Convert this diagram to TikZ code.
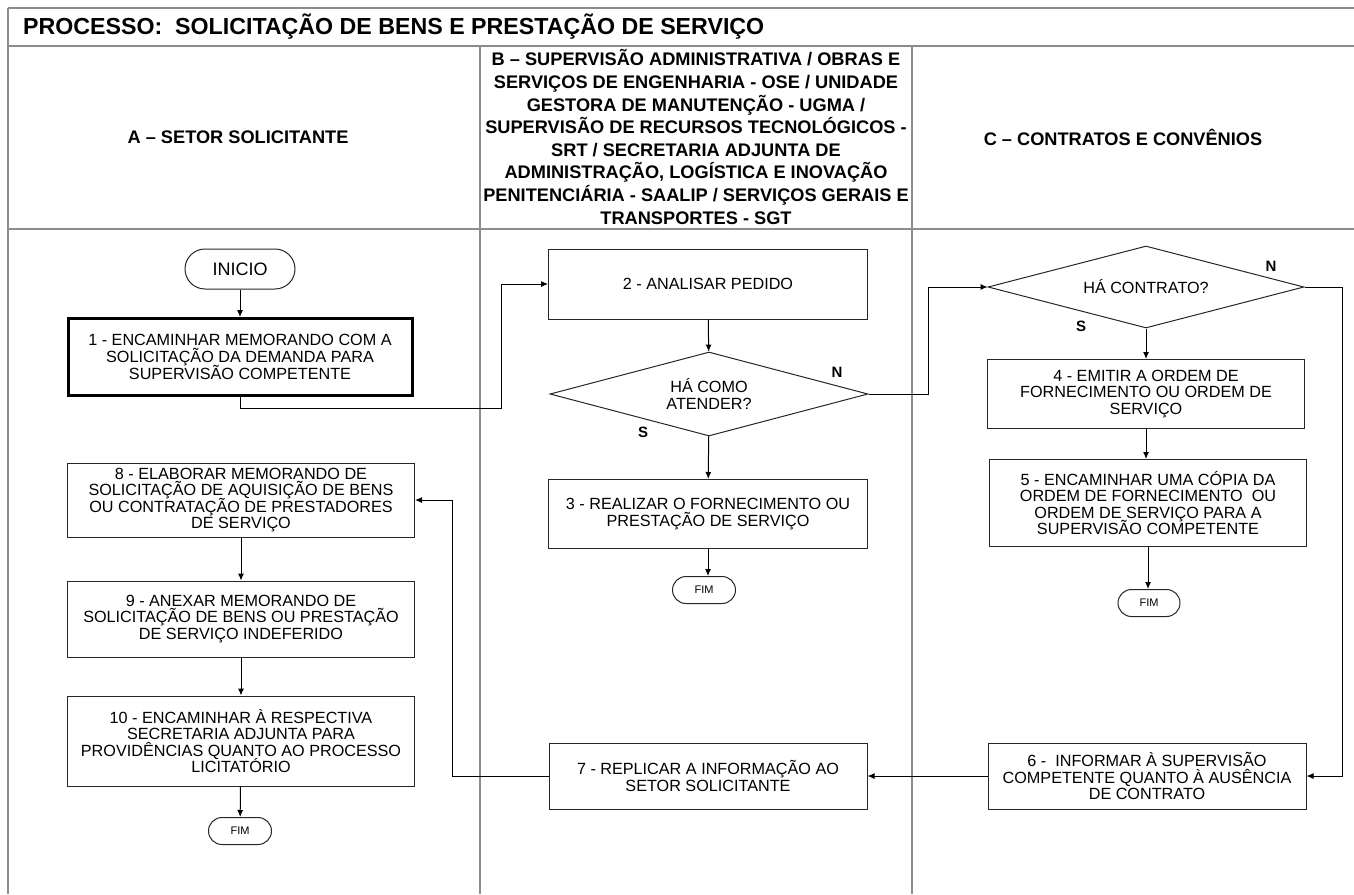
\documentclass[tikz,border=0pt]{standalone}
\usepackage{fontspec}
\setmainfont{Liberation Sans}
\usetikzlibrary{shapes.geometric,shapes.misc,arrows.meta}
\newcommand\tightlines{\lineskiplimit=-20pt\relax}
\begin{document}
\tightlines
\begin{tikzpicture}[x=0.5pt,y=-0.5pt,
  frame/.style={draw=black!45, line width=0.6pt},
  proc/.style={draw=black!85, rectangle, line width=0.5pt, align=center, font=\fontsize{8.1}{8.3}\selectfont\tightlines, inner sep=1pt},
  thickproc/.style={proc, line width=1.5pt, draw=black},
  term/.style={draw=black!85, rounded rectangle, line width=0.5pt, align=center, inner sep=1pt},
  dec/.style={draw=black!85, diamond, aspect=3.8, line width=0.5pt, align=center, inner sep=0pt, font=\fontsize{8.1}{8.6}\selectfont\tightlines},
  hdr/.style={align=center, font=\bfseries\fontsize{9.1}{11.3}\selectfont\tightlines},
  yn/.style={font=\bfseries\fontsize{7.5}{8}\selectfont},
  conn/.style={draw=black, line width=0.5pt, -{Latex[length=3.5pt,width=3pt]}}
]
\useasboundingbox (0,0) rectangle (1354,894);
% frame
\draw[frame] (8,8) -- (1354,8);
\draw[frame] (8,8) -- (8,894);
\draw[frame] (8,46) -- (1354,46);
\draw[frame] (8,229) -- (1354,229);
\draw[frame] (480,46) -- (480,894);
\draw[frame] (912,46) -- (912,894);
% title and headers
\node[anchor=west, font=\bfseries\fontsize{11.6}{13}\selectfont] (title) at (16,27) {PROCESSO:\ \ SOLICITAÇÃO DE BENS E PRESTAÇÃO DE SERVIÇO};
\node[hdr] (hA) at (238,137) {A – SETOR SOLICITANTE};
\node[hdr] (hB) at (696,137) {B – SUPERVISÃO ADMINISTRATIVA / OBRAS E\\SERVIÇOS DE ENGENHARIA - OSE / UNIDADE\\GESTORA DE MANUTENÇÃO - UGMA /\\SUPERVISÃO DE RECURSOS TECNOLÓGICOS -\\SRT / SECRETARIA ADJUNTA DE\\ADMINISTRAÇÃO, LOGÍSTICA E INOVAÇÃO\\PENITENCIÁRIA - SAALIP / SERVIÇOS GERAIS E\\TRANSPORTES - SGT};
\node[hdr] (hC) at (1123,137) {C – CONTRATOS E CONVÊNIOS};
% column A
\node[term, minimum width=57pt, minimum height=20pt, font=\fontsize{9}{9}\selectfont] (inicio) at (240,269) {INICIO};
\node[thickproc, minimum width=172pt, minimum height=38.5pt] (b1) at (240,357) {1 - ENCAMINHAR MEMORANDO COM A\\SOLICITAÇÃO DA DEMANDA PARA\\SUPERVISÃO COMPETENTE};
\node[proc, minimum width=173.5pt, minimum height=37pt] (b8) at (241,500) {8 - ELABORAR MEMORANDO DE\\SOLICITAÇÃO DE AQUISIÇÃO DE BENS\\OU CONTRATAÇÃO DE PRESTADORES\\DE SERVIÇO};
\node[proc, minimum width=173.5pt, minimum height=38pt] (b9) at (241,619) {9 - ANEXAR MEMORANDO DE\\SOLICITAÇÃO DE BENS OU PRESTAÇÃO\\DE SERVIÇO INDEFERIDO};
\node[proc, minimum width=173.5pt, minimum height=45pt] (b10) at (241,741) {10 - ENCAMINHAR À RESPECTIVA\\SECRETARIA ADJUNTA PARA\\PROVIDÊNCIAS QUANTO AO PROCESSO\\LICITATÓRIO};
\node[term, minimum width=33.5pt, minimum height=13.5pt, font=\fontsize{5.5}{6}\selectfont] (fimA) at (240,831) {FIM};
% column B
\node[proc, minimum width=159.5pt, minimum height=35pt] (b2) at (708,284) {2 - ANALISAR PEDIDO};
\node[dec, minimum width=159pt, minimum height=42pt] (d1) at (709,394) {HÁ COMO\\ATENDER?};
\node[yn] (n1) at (837,372) {N};
\node[yn] (s1) at (643,432) {S};
\node[proc, minimum width=159.5pt, minimum height=34.5pt] (b3) at (708,514) {3 - REALIZAR O FORNECIMENTO OU\\PRESTAÇÃO DE SERVIÇO};
\node[term, minimum width=33.5pt, minimum height=13.5pt, font=\fontsize{5.5}{6}\selectfont] (fimB) at (704,590) {FIM};
\node[proc, minimum width=159pt, minimum height=33pt] (b7) at (708,776) {7 - REPLICAR A INFORMAÇÃO AO\\SETOR SOLICITANTE};
% column C
\node[dec, minimum width=158pt, minimum height=41pt] (d2) at (1146,287) {HÁ CONTRATO?};
\node[yn] (n2) at (1271,266) {N};
\node[yn] (s2) at (1081,326) {S};
\node[proc, minimum width=158.5pt, minimum height=34.5pt] (b4) at (1146,394) {4 - EMITIR A ORDEM DE\\FORNECIMENTO OU ORDEM DE\\SERVIÇO};
\node[proc, minimum width=158.5pt, minimum height=43.5pt] (b5) at (1148,503) {5 - ENCAMINHAR UMA CÓPIA DA\\ORDEM DE FORNECIMENTO\ \ OU\\ORDEM DE SERVIÇO PARA A\\SUPERVISÃO COMPETENTE};
\node[term, minimum width=33pt, minimum height=13.5pt, font=\fontsize{5.5}{6}\selectfont] (fimC) at (1149,603) {FIM};
\node[proc, minimum width=159pt, minimum height=33pt] (b6) at (1147,776) {6 -\ \ INFORMAR À SUPERVISÃO\\COMPETENTE QUANTO À AUSÊNCIA\\DE CONTRATO};
% junction points
\coordinate (j1) at (501,408);
\coordinate (j2) at (928,394);
\coordinate (j3) at (1342,287);
\coordinate (j4) at (452,776);
% connectors
\draw[conn] (inicio) -- (b1);
\draw[conn] (b1.south) |- (j1) |- (b2.west);
\draw[conn] (b2) -- (d1);
\draw[conn] (d1) -- (b3);
\draw[conn] (b3.south) -- (b3.south |- fimB.north);
\draw[conn] (d1.east) -- (j2) |- (d2.west);
\draw[conn] (d2) -- (b4);
\draw[conn] (b4.south) -- (b4.south |- b5.north);
\draw[conn] (b5.south) -- (b5.south |- fimC.north);
\draw[conn] (d2.east) -- (j3) |- (b6.east);
\draw[conn] (b6) -- (b7);
\draw[conn] (b7.west) -- (j4) |- (b8.east);
\draw[conn] (b8) -- (b9);
\draw[conn] (b9) -- (b10);
\draw[conn] (b10) -- (fimA);
\end{tikzpicture}
\end{document}
